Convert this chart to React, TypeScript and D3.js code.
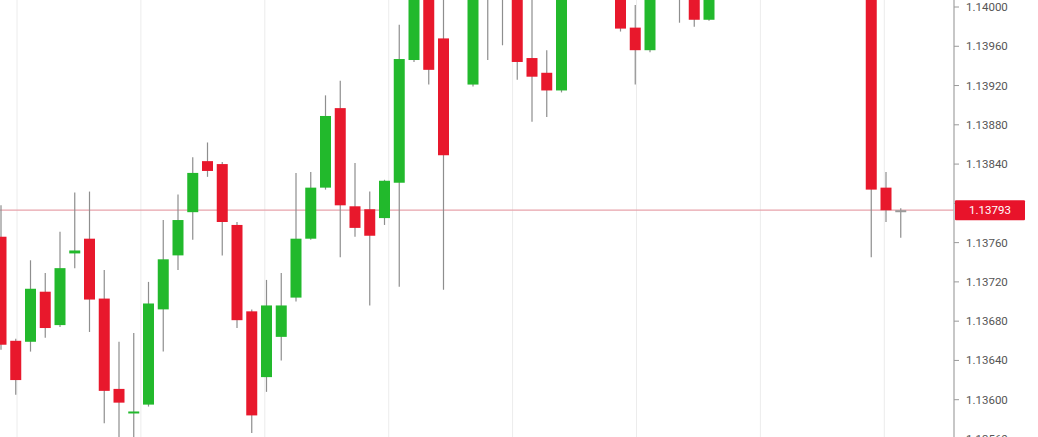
import React from "react";
import * as d3 from "d3";

// OHLC per candle (index = bar slot). Bars above the visible range are off-chart.
const opens = [
  1.13766, 1.1366, 1.13659, 1.1371, 1.13676, 1.13749, 1.13764, 1.13703, 1.13611, 1.13586,
  1.13595, 1.13692, 1.13747, 1.13791, 1.13843, 1.1384, 1.13778, 1.1369, 1.13623, 1.13664,
  1.13704, 1.13764, 1.13816, 1.13897, 1.13797, 1.13794, 1.13785, 1.13821, 1.13946, 1.14012,
  1.13968, 1.1404, 1.13921, 1.1406, 1.1403, 1.14015, 1.13948, 1.13933, 1.13915, 1.1402,
  1.1406, 1.1403, 1.14025, 1.13979, 1.13956, 1.1402, 1.1405, 1.1402, 1.13987, 1.1403,
  1.1407, 1.1411, 1.1409, 1.1414, 1.1416, 1.1413, 1.1415, 1.1418, 1.1416, 1.1417,
  1.13816, 1.13793,
];
const highs = [
  1.13798, 1.13662, 1.13742, 1.13729, 1.13771, 1.13811, 1.13812, 1.13732, 1.13659, 1.13668,
  1.1372, 1.13783, 1.13809, 1.13847, 1.13862, 1.13842, 1.13781, 1.13692, 1.13722, 1.13729,
  1.13831, 1.13832, 1.1391, 1.13925, 1.13841, 1.13812, 1.13824, 1.13982, 1.14028, 1.14022,
  1.14017, 1.14095, 1.1403, 1.14075, 1.1407, 1.1404, 1.14012, 1.13956, 1.1403, 1.14075,
  1.1408, 1.14045, 1.14035, 1.14002, 1.14035, 1.1406, 1.1406, 1.1403, 1.14045, 1.14085,
  1.14125, 1.1413, 1.1415, 1.14175, 1.1417, 1.14165, 1.14195, 1.1419, 1.14185, 1.1418,
  1.13832, 1.13795,
];
const lows = [
  1.13651, 1.13605, 1.13649, 1.13663, 1.13674, 1.13734, 1.13669, 1.13576, 1.13559, 1.13554,
  1.13593, 1.13649, 1.13732, 1.13763, 1.13827, 1.13747, 1.13673, 1.13566, 1.13608, 1.1364,
  1.137, 1.13763, 1.13814, 1.13745, 1.13766, 1.13696, 1.13778, 1.13715, 1.13944, 1.13921,
  1.13712, 1.1403, 1.13919, 1.13946, 1.13961, 1.13926, 1.13883, 1.13888, 1.13913, 1.14015,
  1.1402, 1.1401, 1.13975, 1.13921, 1.13954, 1.14012, 1.13984, 1.1398, 1.13986, 1.1402,
  1.1406, 1.1408, 1.14085, 1.14125, 1.1412, 1.14115, 1.1414, 1.1415, 1.14145, 1.13745,
  1.13781, 1.13765,
];
const closes = [
  1.13656, 1.1362, 1.13713, 1.13673, 1.13734, 1.13752, 1.13702, 1.13609, 1.13597, 1.13588,
  1.13698, 1.13743, 1.13783, 1.13831, 1.13833, 1.13781, 1.13681, 1.13584, 1.13696, 1.13696,
  1.13764, 1.13816, 1.13889, 1.13798, 1.13775, 1.13767, 1.13823, 1.13947, 1.14017, 1.13936,
  1.13849, 1.1408, 1.14017, 1.14025, 1.1405, 1.13944, 1.13929, 1.13915, 1.14017, 1.1406,
  1.1403, 1.14012, 1.13978, 1.13956, 1.1402, 1.1405, 1.14025, 1.13987, 1.1403, 1.1407,
  1.1411, 1.1409, 1.1414, 1.1416, 1.1413, 1.1415, 1.1418, 1.1416, 1.1417, 1.13814,
  1.13793, 1.13793,
];

const priceTicks = [
  1.14, 1.1396, 1.1392, 1.1388, 1.1384, 1.138, 1.1376, 1.1372, 1.1368, 1.1364, 1.136, 1.1356,
];
const lastPrice = 1.13793;

const UP = "#22b92c";
const DOWN = "#e8182c";

export default function App() {
  const width = 1038;
  const height = 437;
  const axisX = 954;

  const x = d3.scaleLinear().domain([-0.0678, 64.61]).range([0, axisX]);
  const y = d3.scaleLinear().domain([1.14, 1.1356]).range([7, 438.97]);
  const fmt = d3.format(".5f");
  const bodyW = 11;
  const gridIdx = d3.range(1.085, 64, 8.4);

  const candles = d3.range(opens.length).map((i) => ({
    i,
    o: opens[i],
    h: highs[i],
    l: lows[i],
    c: closes[i],
  }));

  const py = y(lastPrice);
  const visibleTicks = priceTicks.filter((t) => Math.abs(y(t) - py) > 14);

  return (
    <div style={{ position: "fixed", left: 0, top: 0 }}>
      <svg width={width} height={height} style={{ display: "block", background: "#fff" }}>
        <defs>
          <clipPath id="plot">
            <rect x={0} y={0} width={axisX} height={height} />
          </clipPath>
        </defs>
        <g clipPath="url(#plot)">
          {gridIdx.map((g, k) => (
            <line key={k} x1={x(g)} x2={x(g)} y1={0} y2={height} stroke="#ececec" strokeWidth={1} />
          ))}
          <line x1={0} x2={axisX} y1={py} y2={py} stroke="#e7a3ab" strokeWidth={1.2} />
          {candles.map((d) => {
            const cx = x(d.i);
            const up = d.c > d.o;
            const top = y(Math.max(d.o, d.c));
            const bot = y(Math.min(d.o, d.c));
            const h = Math.max(2, bot - top);
            return (
              <g key={d.i}>
                <line x1={cx} x2={cx} y1={y(d.h)} y2={y(d.l)} stroke="#8e8e8e" strokeWidth={1.2} />
                <rect
                  x={cx - bodyW / 2}
                  y={top}
                  width={bodyW}
                  height={h}
                  fill={d.c === d.o ? "#9a9a9a" : up ? UP : DOWN}
                />
              </g>
            );
          })}
        </g>
        <line x1={axisX} x2={axisX} y1={0} y2={height} stroke="#b4b4b4" strokeWidth={1.5} />
        {priceTicks.map((t) => (
          <line key={t} x1={axisX} x2={axisX + 5} y1={y(t)} y2={y(t)} stroke="#9a9a9a" strokeWidth={1} />
        ))}
        {visibleTicks.map((t) => (
          <text
            key={t}
            x={966}
            y={y(t)}
            dy="0.35em"
            fontFamily="Roboto, 'Open Sans', sans-serif"
            fontSize={11.5}
            fill="#555"
          >
            {fmt(t)}
          </text>
        ))}
        <rect x={axisX + 1} y={py - 10} width={70} height={20} fill="#e8132a" rx={1} />
        <text
          x={axisX + 36}
          y={py}
          dy="0.35em"
          textAnchor="middle"
          fontFamily="Roboto, 'Open Sans', sans-serif"
          fontSize={11.5}
          fill="#fff"
        >
          {fmt(lastPrice)}
        </text>
      </svg>
    </div>
  );
}
